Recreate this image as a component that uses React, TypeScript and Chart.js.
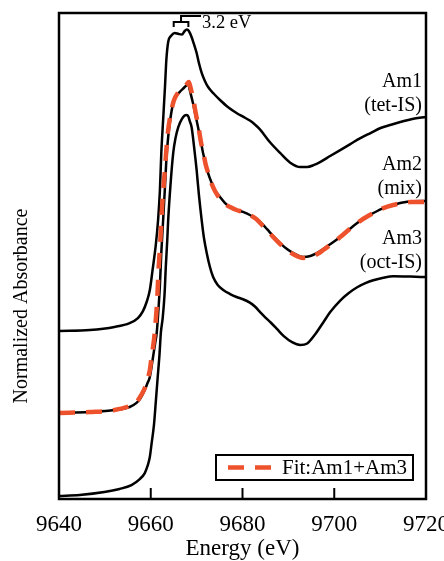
import React, { useEffect, useRef } from "react";
import { Chart, registerables } from "chart.js";

Chart.register(...registerables);

// ---------- data (energy in eV, normalized absorbance incl. vertical offsets) ----------
const AM1_E = [9640, 9646.7, 9652.1, 9655.4, 9657.2, 9658.3, 9659.1, 9659.8, 9660.4, 9661.1, 9661.6, 9662.0, 9662.3, 9662.7, 9663.1, 9663.4, 9663.8, 9664.4, 9665.2, 9666.1, 9666.8, 9667.4, 9667.9, 9668.3, 9668.9, 9669.4, 9670.0, 9670.5, 9671.1, 9671.8, 9672.5, 9673.8, 9675.1, 9676.8, 9678.7, 9680.1, 9681.6, 9682.7, 9683.8, 9686.0, 9688.2, 9690.4, 9692.6, 9694.1, 9695.6, 9696.9, 9699.1, 9701.3, 9703.5, 9705.7, 9707.9, 9710.1, 9712.2, 9714.4, 9717.0, 9720];
const AM1_A = [1.037, 1.043, 1.062, 1.086, 1.117, 1.160, 1.216, 1.290, 1.414, 1.568, 1.722, 1.907, 2.136, 2.340, 2.543, 2.710, 2.821, 2.858, 2.877, 2.870, 2.867, 2.889, 2.898, 2.889, 2.852, 2.809, 2.753, 2.691, 2.630, 2.580, 2.543, 2.500, 2.463, 2.420, 2.383, 2.360, 2.336, 2.312, 2.282, 2.202, 2.136, 2.076, 2.049, 2.049, 2.062, 2.080, 2.117, 2.154, 2.191, 2.228, 2.259, 2.290, 2.309, 2.327, 2.346, 2.358];

const AM2_E = [9640, 9646.7, 9652.1, 9655.4, 9656.9, 9657.8, 9658.7, 9659.3, 9659.8, 9660.4, 9660.9, 9661.3, 9661.6, 9662.0, 9662.3, 9662.7, 9663.1, 9663.4, 9663.8, 9664.3, 9664.9, 9665.6, 9666.3, 9667.2, 9667.9, 9668.2, 9668.5, 9669.2, 9669.7, 9670.3, 9670.9, 9671.4, 9672.0, 9672.5, 9673.2, 9674.0, 9675.1, 9676.2, 9677.3, 9678.7, 9680.1, 9681.6, 9683.0, 9684.3, 9685.4, 9686.7, 9688.2, 9689.7, 9691.0, 9693.2, 9694.8, 9696.3, 9697.6, 9699.1, 9701.3, 9703.5, 9705.9, 9708.5, 9710.7, 9712.9, 9714.9, 9716.6, 9720];
const AM2_A = [0.531, 0.537, 0.549, 0.568, 0.593, 0.623, 0.673, 0.716, 0.753, 0.858, 0.951, 1.025, 1.136, 1.321, 1.519, 1.722, 1.926, 2.093, 2.235, 2.352, 2.444, 2.488, 2.512, 2.537, 2.556, 2.559, 2.525, 2.444, 2.377, 2.296, 2.210, 2.136, 2.068, 2.012, 1.957, 1.907, 1.864, 1.827, 1.802, 1.784, 1.772, 1.753, 1.728, 1.698, 1.664, 1.623, 1.580, 1.543, 1.519, 1.494, 1.500, 1.519, 1.543, 1.572, 1.617, 1.670, 1.722, 1.765, 1.796, 1.815, 1.830, 1.838, 1.840];

const AM3_E = [9640, 9644.5, 9649.9, 9653.2, 9655.8, 9657.6, 9658.7, 9659.3, 9659.8, 9660.2, 9660.7, 9661.1, 9661.5, 9661.9, 9662.2, 9662.6, 9663.0, 9663.3, 9663.6, 9663.8, 9664.3, 9664.9, 9665.4, 9666.0, 9666.8, 9667.4, 9667.8, 9668.2, 9668.5, 9668.9, 9669.4, 9670.0, 9670.5, 9671.1, 9671.6, 9672.2, 9672.9, 9673.6, 9674.6, 9675.8, 9677.3, 9678.7, 9680.1, 9681.6, 9682.7, 9683.8, 9685.0, 9686.2, 9687.5, 9689.0, 9690.8, 9692.6, 9694.1, 9695.8, 9697.6, 9699.3, 9701.3, 9703.1, 9705.0, 9706.8, 9708.5, 9710.7, 9712.9, 9716.6, 9720];
const AM3_A = [0.019, 0.025, 0.043, 0.062, 0.086, 0.123, 0.160, 0.204, 0.259, 0.346, 0.457, 0.599, 0.747, 0.889, 1.025, 1.117, 1.259, 1.444, 1.599, 1.722, 1.938, 2.136, 2.228, 2.296, 2.346, 2.367, 2.370, 2.361, 2.333, 2.296, 2.185, 2.031, 1.877, 1.722, 1.611, 1.519, 1.432, 1.370, 1.321, 1.290, 1.265, 1.247, 1.233, 1.212, 1.188, 1.155, 1.120, 1.088, 1.050, 1.005, 0.968, 0.951, 0.960, 1.015, 1.090, 1.160, 1.225, 1.270, 1.307, 1.332, 1.350, 1.366, 1.375, 1.373, 1.370];

const FIT_E = [9640, 9646.7, 9652.1, 9655.4, 9656.9, 9657.8, 9658.7, 9659.3, 9659.8, 9660.2, 9660.7, 9661.1, 9661.4, 9661.7, 9662.1, 9662.5, 9663.0, 9663.4, 9663.8, 9664.4, 9665.0, 9665.9, 9667.0, 9667.9, 9668.3, 9668.7, 9669.3, 9669.8, 9670.4, 9670.9, 9671.5, 9672.0, 9672.6, 9673.3, 9674.0, 9675.1, 9676.2, 9677.3, 9678.7, 9680.1, 9681.6, 9683.0, 9684.3, 9685.4, 9686.7, 9688.2, 9689.7, 9691.0, 9693.2, 9694.8, 9696.3, 9697.6, 9699.1, 9701.3, 9703.5, 9705.9, 9708.5, 9710.7, 9712.9, 9714.9, 9716.6, 9720];
const FIT_A = [0.531, 0.537, 0.549, 0.574, 0.599, 0.636, 0.685, 0.741, 0.796, 0.883, 0.981, 1.105, 1.228, 1.414, 1.599, 1.815, 2.000, 2.154, 2.278, 2.383, 2.457, 2.506, 2.537, 2.562, 2.574, 2.537, 2.463, 2.383, 2.296, 2.210, 2.130, 2.062, 2.006, 1.944, 1.901, 1.852, 1.821, 1.802, 1.784, 1.772, 1.753, 1.728, 1.691, 1.660, 1.617, 1.574, 1.537, 1.512, 1.488, 1.494, 1.512, 1.537, 1.568, 1.617, 1.670, 1.722, 1.765, 1.796, 1.815, 1.827, 1.833, 1.833];

const X_MIN = 9640;
const X_MAX = 9720;
const X_STEP = 20;
const Y_MIN = 0;
const Y_MAX = 3.0;

const SERIES_LABELS = [
  ["Am1", "(tet-IS)"],
  ["Am2", "(mix)"],
  ["Am3", "(oct-IS)"],
];
const FIT_LABEL = "Fit:Am1+Am3";
const SPLIT_LABEL = "3.2 eV";
const SPLIT_PEAKS = [9665.0, 9668.2];
const X_TITLE = "Energy (eV)";
const Y_TITLE = "Normalized Absorbance";

const FONT = "'Liberation Serif', 'Times New Roman', Times, serif";
const RED = "rgb(238, 82, 44)";

const pts = (xs: number[], ys: number[]) => xs.map((x, i) => ({ x, y: ys[i] }));

const decorPlugin = {
  id: "decor",
  afterDatasetsDraw(chart: any) {
    const { ctx, chartArea: a, scales } = chart;
    const xs = scales.x;
    ctx.save();
    ctx.strokeStyle = "#000";
    ctx.fillStyle = "#000";
    // frame
    ctx.lineWidth = 2.5;
    ctx.strokeRect(a.left, a.top, a.right - a.left, a.bottom - a.top);
    // inward tick marks on bottom axis
    ctx.lineWidth = 2;
    for (let v = X_MIN + X_STEP; v < X_MAX; v += X_STEP) {
      const px = xs.getPixelForValue(v);
      ctx.beginPath();
      ctx.moveTo(px, a.bottom);
      ctx.lineTo(px, a.bottom - 11);
      ctx.stroke();
    }
    // series labels at right
    ctx.font = `20px ${FONT}`;
    ctx.textAlign = "right";
    ctx.textBaseline = "alphabetic";
    const rx = a.right - 4;
    const baseY = [[74, 98], [157, 181], [231, 255]];
    SERIES_LABELS.forEach((lines, i) => {
      lines.forEach((t, j) => ctx.fillText(t, rx, a.top + baseY[i][j]));
    });
    // split bracket
    const p1 = xs.getPixelForValue(SPLIT_PEAKS[0]);
    const p2 = xs.getPixelForValue(SPLIT_PEAKS[1]);
    const mid = (p1 + p2) / 2;
    ctx.lineWidth = 2;
    ctx.beginPath();
    ctx.moveTo(p1, a.top + 14);
    ctx.lineTo(p1, a.top + 9);
    ctx.lineTo(p2, a.top + 9);
    ctx.lineTo(p2, a.top + 14);
    ctx.moveTo(mid, a.top + 9);
    ctx.lineTo(mid, a.top + 3);
    ctx.lineTo(mid + 20, a.top + 3);
    ctx.stroke();
    ctx.font = `18.5px ${FONT}`;
    ctx.textAlign = "left";
    ctx.fillText(SPLIT_LABEL, mid + 21, a.top + 15);
    // legend box
    const lw = 197, lh = 25;
    const lx = a.right - 13 - lw;
    const ly = a.bottom - 19 - lh;
    ctx.lineWidth = 2;
    ctx.fillStyle = "#fff";
    ctx.fillRect(lx, ly, lw, lh);
    ctx.strokeRect(lx, ly, lw, lh);
    ctx.strokeStyle = RED;
    ctx.lineWidth = 4.5;
    ctx.setLineDash([16, 11]);
    ctx.beginPath();
    ctx.moveTo(lx + 12, ly + lh / 2);
    ctx.lineTo(lx + 55, ly + lh / 2);
    ctx.stroke();
    ctx.setLineDash([]);
    ctx.fillStyle = "#000";
    ctx.font = `21px ${FONT}`;
    ctx.textBaseline = "middle";
    ctx.fillText(FIT_LABEL, lx + 66, ly + lh / 2 + 1);
    // y title
    ctx.translate(22, 306);
    ctx.rotate(-Math.PI / 2);
    ctx.textAlign = "center";
    ctx.font = `20px ${FONT}`;
    ctx.fillText(Y_TITLE, 0, 0);
    ctx.restore();
  },
};

export default function App() {
  const ref = useRef<HTMLCanvasElement | null>(null);
  useEffect(() => {
    if (!ref.current) return;
    const black = { borderColor: "#000", borderWidth: 2.5, pointRadius: 0, cubicInterpolationMode: "monotone" as const, order: 1 };
    const chart = new Chart(ref.current, {
      type: "line",
      data: {
        datasets: [
          {
            label: FIT_LABEL,
            data: pts(FIT_E, FIT_A),
            borderColor: RED,
            borderWidth: 4.5,
            borderDash: [16, 11],
            pointRadius: 0,
            cubicInterpolationMode: "monotone",
            order: 0,
          },
          { label: "Am1", data: pts(AM1_E, AM1_A), ...black },
          { label: "Am2", data: pts(AM2_E, AM2_A), ...black },
          { label: "Am3", data: pts(AM3_E, AM3_A), ...black },
        ],
      },
      options: {
        animation: false,
        responsive: false,
        devicePixelRatio: 1,
        layout: { padding: { left: 59, right: 18, top: 13, bottom: 0 } },
        plugins: { legend: { display: false }, tooltip: { enabled: false } },
        scales: {
          x: {
            type: "linear",
            min: X_MIN,
            max: X_MAX,
            grid: { display: false },
            border: { display: false },
            ticks: {
              stepSize: X_STEP,
              color: "#000",
              padding: 4,
              font: { family: FONT, size: 23 },
              maxRotation: 0,
              autoSkip: false,
              callback: (v: any) => String(v),
            },
            title: {
              display: true,
              text: X_TITLE,
              color: "#000",
              font: { family: FONT, size: 23 },
              padding: { top: 0, bottom: -2 },
            },
            afterFit: (s: any) => {
              s.height = 62;
              s.paddingLeft = 0;
              s.paddingRight = 0;
            },
          },
          y: { display: false, min: Y_MIN, max: Y_MAX },
        },
      },
      plugins: [decorPlugin],
    });
    return () => chart.destroy();
  }, []);
  return (
    <div style={{ position: "absolute", left: 0, top: 0, width: 444, height: 561, background: "#fff" }}>
      <canvas ref={ref} width={444} height={561} style={{ width: 444, height: 561, display: "block" }} />
    </div>
  );
}
